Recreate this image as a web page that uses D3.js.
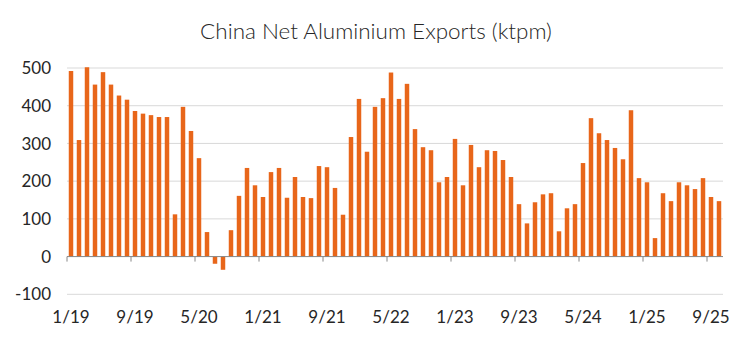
<!DOCTYPE html>
<html>
<head>
<meta charset="utf-8">
<script src="https://cdn.jsdelivr.net/npm/d3@7/dist/d3.min.js"></script>
<style>
  html, body { margin: 0; padding: 0; background: #fff; }
  svg { display: block; }
  text { font-family: Lato, "Noto Sans", sans-serif; fill: #262626; }
</style>
</head>
<body>
<svg id="chart" width="746" height="343"></svg>
<script>
const title = "China Net Aluminium Exports (ktpm)";

const months = [
  "1/19","2/19","3/19","4/19","5/19","6/19","7/19","8/19","9/19","10/19","11/19","12/19",
  "1/20","2/20","3/20","4/20","5/20","6/20","7/20","8/20","9/20","10/20","11/20","12/20",
  "1/21","2/21","3/21","4/21","5/21","6/21","7/21","8/21","9/21","10/21","11/21","12/21",
  "1/22","2/22","3/22","4/22","5/22","6/22","7/22","8/22","9/22","10/22","11/22","12/22",
  "1/23","2/23","3/23","4/23","5/23","6/23","7/23","8/23","9/23","10/23","11/23","12/23",
  "1/24","2/24","3/24","4/24","5/24","6/24","7/24","8/24","9/24","10/24","11/24","12/24",
  "1/25","2/25","3/25","4/25","5/25","6/25","7/25","8/25","9/25","10/25"
];

const exportsKt = [
  492, 309, 502, 456, 489, 456, 427, 416, 386, 379, 375, 370,
  370, 112, 397, 333, 261, 65, -19, -35, 70, 161, 235, 189,
  158, 224, 235, 156, 211, 158, 155, 240, 237, 182, 111, 317,
  418, 278, 397, 420, 488, 418, 458, 338, 290, 282, 197, 211,
  312, 189, 296, 237, 282, 280, 256, 211, 139, 88, 144, 165,
  168, 67, 128, 139, 248, 367, 327, 309, 288, 258, 388, 208,
  197, 49, 168, 147, 197, 189, 179, 208, 158, 147
];

const xTickLabels = ["1/19","9/19","5/20","1/21","9/21","5/22","1/23","9/23","5/24","1/25","9/25"];
const yTicks = [-100, 0, 100, 200, 300, 400, 500];

(function () {
  const svg = d3.select("#chart");
  const pLeft = 67, pRight = 723, pTop = 68, pBottom = 294.3;

  const x = d3.scaleBand().domain(months).range([pLeft, pRight]).paddingInner(0.44).paddingOuter(0.22);
  const xEdge = d3.scaleBand().domain(months).range([pLeft, pRight]).padding(0);
  const y = d3.scaleLinear().domain([-100, 500]).range([pBottom, pTop]);

  // gridlines
  svg.append("g").selectAll("line")
    .data(yTicks.filter(d => d !== 0))
    .join("line")
    .attr("x1", pLeft).attr("x2", pRight)
    .attr("y1", d => y(d)).attr("y2", d => y(d))
    .attr("stroke", "#d9d9d9").attr("stroke-width", 1);

  // bars
  svg.append("g").selectAll("rect")
    .data(months.map((m, i) => ({ m, v: exportsKt[i] })))
    .join("rect")
    .attr("x", d => x(d.m))
    .attr("width", x.bandwidth())
    .attr("y", d => Math.min(y(d.v), y(0)))
    .attr("height", d => Math.abs(y(d.v) - y(0)))
    .attr("fill", "#E8661A");

  // zero axis line with ticks
  const axisG = svg.append("g");
  axisG.append("line")
    .attr("x1", pLeft).attr("x2", pRight)
    .attr("y1", y(0)).attr("y2", y(0))
    .attr("stroke", "#868686").attr("stroke-width", 1);
  axisG.selectAll("line.tick")
    .data(xTickLabels)
    .join("line")
    .attr("class", "tick")
    .attr("x1", d => xEdge(d)).attr("x2", d => xEdge(d))
    .attr("y1", y(0)).attr("y2", y(0) + 5)
    .attr("stroke", "#868686").attr("stroke-width", 1);

  // x labels
  svg.append("g").selectAll("text")
    .data(xTickLabels)
    .join("text")
    .attr("x", d => xEdge(d) + xEdge.bandwidth() / 2)
    .attr("y", 323)
    .attr("text-anchor", "middle")
    .attr("font-size", 17)
    .text(d => d);

  // y labels
  svg.append("g").selectAll("text")
    .data(yTicks)
    .join("text")
    .attr("x", 51)
    .attr("y", d => y(d))
    .attr("dy", "0.36em")
    .attr("text-anchor", "end")
    .attr("font-size", 17)
    .text(d => d);

  // title
  const t = svg.append("text")
    .attr("x", 376)
    .attr("y", 39)
    .attr("text-anchor", "middle")
    .attr("font-size", 20)
    .attr("font-weight", 300)
    .text(title);
  const L = t.node().getComputedTextLength();
  t.attr("font-size", 20 * 352 / L);
})();
</script>
</body>
</html>
